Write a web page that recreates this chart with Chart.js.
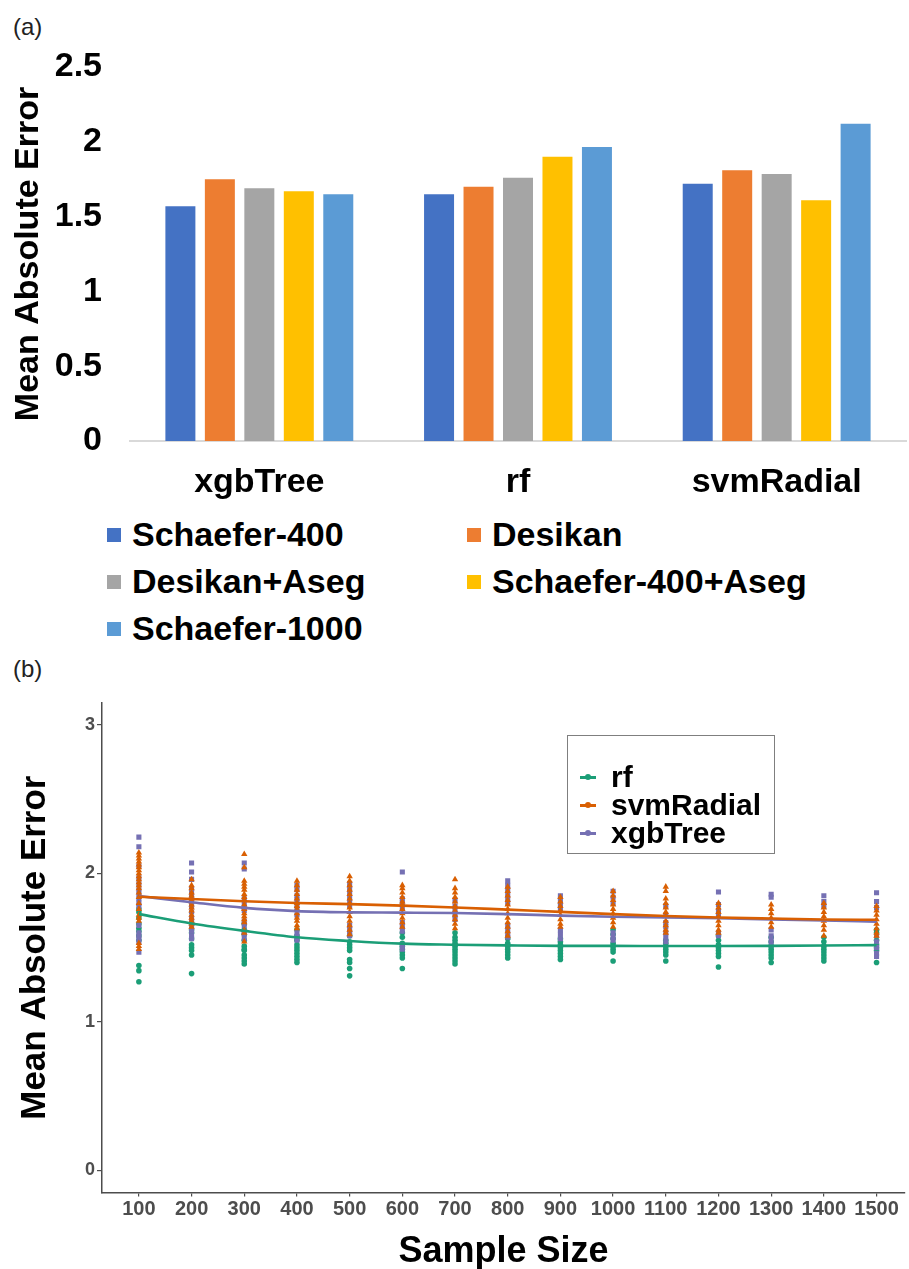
<!DOCTYPE html>
<html><head><meta charset="utf-8">
<script src="https://cdn.jsdelivr.net/npm/chart.js@4/dist/chart.umd.min.js"></script>
<style>
html,body{margin:0;padding:0;background:#fff;}
body{width:909px;height:1269px;position:relative;overflow:hidden;font-family:"Liberation Sans",Arial,sans-serif;}
#wrapA{position:absolute;left:0;top:0;width:909px;height:510px;}
#wrapB{position:absolute;left:0;top:690px;width:909px;height:579px;}
.panel{position:absolute;left:13px;font-size:24px;color:#222;line-height:28px;}
#legA{position:absolute;left:107px;top:511px;display:grid;grid-template-columns:360px 420px;grid-auto-rows:47px;}
#legA .it{display:flex;align-items:center;font-weight:bold;font-size:34px;color:#000;white-space:nowrap;}
#legA .sw{width:14px;height:14px;margin-right:11px;flex:none;}
#legB{position:absolute;left:567px;top:735px;width:208px;height:119px;border:1.5px solid #7f7f7f;box-sizing:border-box;padding-top:27px;}
#legB .it{display:flex;align-items:center;height:28px;font-weight:bold;font-size:30px;color:#000;white-space:nowrap;}
#legB .key{position:relative;width:16px;height:3px;margin-left:12px;margin-right:15px;flex:none;}
#legB .key i{position:absolute;left:5px;top:-1.5px;width:6px;height:6px;border-radius:3px;}
</style></head>
<body>
<div class="panel" style="top:13px">(a)</div>
<div class="panel" style="top:655px">(b)</div>
<div id="wrapA"><canvas id="cA" width="909" height="510"></canvas></div>
<div id="legA"></div>
<div id="wrapB"><canvas id="cB" width="909" height="579"></canvas></div>
<div id="legB"></div>
<script>
// ---------- Panel (a) data ----------
const models = ['xgbTree', 'rf', 'svmRadial'];
const atlasNames = ['Schaefer-400', 'Desikan', 'Desikan+Aseg', 'Schaefer-400+Aseg', 'Schaefer-1000'];
const schaefer400 = [1.57, 1.65, 1.72];
const desikan = [1.75, 1.70, 1.81];
const desikanAseg = [1.69, 1.76, 1.785];
const schaefer400Aseg = [1.67, 1.90, 1.61];
const schaefer1000 = [1.65, 1.965, 2.12];
const atlasColors = ['#4472c4', '#ed7d31', '#a5a5a5', '#ffc000', '#5b9bd5'];
const yTicksA = [0, 0.5, 1, 1.5, 2, 2.5];

// ---------- Panel (b) data ----------
const sampleSizes = [100,200,300,400,500,600,700,800,900,1000,1100,1200,1300,1400,1500];
const yTicksB = [0, 1, 2, 3];
const modelNamesB = ['rf', 'svmRadial', 'xgbTree'];
const rfFit  = [1.726,1.663,1.613,1.570,1.545,1.527,1.520,1.515,1.512,1.512,1.511,1.511,1.512,1.514,1.517];
const svmFit = [1.843,1.828,1.813,1.801,1.793,1.783,1.771,1.756,1.741,1.726,1.713,1.703,1.696,1.690,1.688];
const xgbFit = [1.848,1.806,1.768,1.746,1.738,1.736,1.733,1.726,1.716,1.708,1.703,1.698,1.690,1.683,1.675];
const rfPts = [
 [1.76,1.74,1.70,1.66,1.63,1.61,1.58,1.55,1.38,1.345,1.27],
 [1.66,1.62,1.60,1.56,1.52,1.50,1.48,1.45,1.325],
 [1.66,1.62,1.59,1.55,1.51,1.49,1.48,1.45,1.43,1.41,1.39],
 [1.62,1.58,1.55,1.52,1.50,1.48,1.46,1.44,1.42,1.40],
 [1.58,1.54,1.52,1.50,1.48,1.42,1.40,1.36,1.31],
 [1.60,1.57,1.53,1.51,1.49,1.47,1.45,1.43,1.36],
 [1.60,1.57,1.55,1.53,1.51,1.49,1.47,1.45,1.43,1.41,1.39],
 [1.56,1.53,1.51,1.49,1.47,1.45,1.43],
 [1.56,1.54,1.52,1.50,1.48,1.46,1.44,1.42],
 [1.62,1.59,1.56,1.53,1.51,1.49,1.47,1.41],
 [1.55,1.53,1.51,1.49,1.47,1.45,1.41],
 [1.58,1.55,1.52,1.50,1.48,1.46,1.44,1.37],
 [1.57,1.54,1.51,1.49,1.47,1.45,1.43,1.40],
 [1.57,1.54,1.51,1.49,1.47,1.45,1.43,1.41],
 [1.62,1.60,1.55,1.52,1.50,1.48,1.40]
];
const svmPts = [
 [2.14,2.12,2.10,2.08,2.06,2.04,2.02,2.00,1.98,1.96,1.94,1.92,1.90,1.87,1.84,1.80,1.76,1.72,1.70,1.68,1.53,1.51,1.49],
 [1.96,1.92,1.90,1.87,1.85,1.83,1.81,1.79,1.77,1.75,1.72,1.70,1.68,1.66,1.64],
 [2.13,2.04,1.95,1.93,1.91,1.89,1.86,1.84,1.82,1.79,1.76,1.73,1.71,1.69,1.67,1.62,1.60,1.54],
 [1.95,1.92,1.89,1.86,1.83,1.80,1.78,1.76,1.73,1.70,1.68,1.65,1.63],
 [1.98,1.95,1.92,1.89,1.86,1.83,1.80,1.77,1.74,1.71,1.68,1.65,1.62,1.59],
 [1.92,1.90,1.87,1.84,1.81,1.79,1.76,1.73,1.70,1.67,1.64],
 [1.96,1.90,1.87,1.84,1.81,1.78,1.75,1.72,1.69,1.66,1.63],
 [1.91,1.88,1.85,1.82,1.79,1.76,1.73,1.70,1.67,1.64,1.61,1.58],
 [1.84,1.81,1.78,1.75,1.72,1.69,1.66,1.64],
 [1.88,1.85,1.82,1.79,1.76,1.73,1.70,1.67,1.64],
 [1.91,1.88,1.83,1.80,1.77,1.74,1.71,1.68,1.65,1.62,1.60],
 [1.80,1.77,1.74,1.71,1.68,1.65,1.62,1.60],
 [1.79,1.76,1.73,1.70,1.67,1.64],
 [1.80,1.77,1.74,1.71,1.68,1.65,1.62,1.58],
 [1.78,1.75,1.72,1.69,1.66,1.63,1.60,1.58]
];
const xgbPts = [
 [2.245,2.18,2.05,1.97,1.93,1.89,1.86,1.83,1.80,1.78,1.65,1.60,1.58,1.56,1.54,1.47],
 [2.07,2.01,1.96,1.90,1.87,1.84,1.81,1.78,1.74,1.70,1.67,1.64,1.61,1.58,1.56],
 [2.07,2.03,1.83,1.80,1.77,1.75,1.68,1.65,1.61,1.59,1.56],
 [1.92,1.89,1.85,1.82,1.79,1.76,1.72,1.60,1.57,1.55],
 [1.93,1.90,1.87,1.84,1.81,1.78,1.65,1.62,1.60,1.58],
 [2.01,1.83,1.80,1.77,1.67,1.64,1.61,1.52,1.49],
 [1.82,1.78,1.75,1.72,1.69],
 [1.95,1.92,1.89,1.86,1.83,1.80,1.65,1.62,1.59,1.57],
 [1.85,1.82,1.79,1.76,1.62,1.59,1.56],
 [1.88,1.84,1.80,1.60,1.57,1.55],
 [1.78,1.72,1.67,1.64,1.60,1.57,1.54],
 [1.875,1.79,1.75,1.72,1.60,1.58],
 [1.86,1.84,1.62,1.58,1.55,1.52],
 [1.85,1.81,1.78],
 [1.87,1.81,1.77,1.58,1.54,1.50,1.46,1.44]
];
const modelColorsB = ['#1b9e77', '#d95f02', '#7570b3'];
const modelShapesB = ['circle', 'triangle', 'rect'];

const FONT = '"Liberation Sans", Arial, sans-serif';

// ---------- Chart (a) ----------
const atlasValues = [schaefer400, desikan, desikanAseg, schaefer400Aseg, schaefer1000];
new Chart(document.getElementById('cA'), {
  type: 'bar',
  data: {
    labels: models,
    datasets: atlasNames.map((n, i) => ({
      label: n, data: atlasValues[i], backgroundColor: atlasColors[i],
      categoryPercentage: 0.763, barPercentage: 0.76, borderWidth: 0
    }))
  },
  options: {
    responsive: false, animation: false, devicePixelRatio: 1,
    layout: { padding: { top: 67, right: 3, left: 0, bottom: 0 } },
    plugins: { legend: { display: false }, tooltip: { enabled: false } },
    scales: {
      x: {
        grid: { display: false, drawTicks: false },
        border: { display: true, color: '#d9d9d9', width: 2 },
        ticks: { padding: 21, color: '#000', font: { family: FONT, size: 34, weight: 'bold' } },
        afterFit: s => { s.height = 69; }
      },
      y: {
        min: 0, max: 2.5,
        afterBuildTicks: s => { s.ticks = yTicksA.map(v => ({ value: v })); },
        grid: { display: false, drawTicks: false },
        border: { display: false },
        ticks: { padding: 28, color: '#000', callback: v => String(v),
                 font: { family: FONT, size: 34, weight: 'bold' } },
        title: { display: true, text: 'Mean Absolute Error', color: '#000', padding: { top: 8, bottom: 0 },
                 font: { family: FONT, size: 34, weight: 'bold' } },
        afterFit: s => { s.width = 130; }
      }
    }
  }
});

// legend (a)
const legA = document.getElementById('legA');
atlasNames.forEach((n, i) => {
  const d = document.createElement('div'); d.className = 'it';
  d.innerHTML = '<span class="sw" style="background:' + atlasColors[i] + '"></span><span></span>';
  d.lastChild.textContent = n;
  legA.appendChild(d);
});

// ---------- Chart (b) ----------
const ptsB = [rfPts, svmPts, xgbPts];
const fitB = [rfFit, svmFit, xgbFit];
const pointOrder = [3, 1, 2];
const pointRadii = [2.8, 3.7, 3.6];
const dsB = [];
modelNamesB.forEach((n, i) => {
  dsB.push({
    label: n + ' fit', type: 'line',
    data: sampleSizes.map((s, k) => ({ x: s, y: fitB[i][k] })),
    borderColor: modelColorsB[i], borderWidth: 2.6, pointRadius: 0, fill: false,
    cubicInterpolationMode: 'monotone', order: 0
  });
});
modelNamesB.forEach((n, i) => {
  const data = [];
  sampleSizes.forEach((s, k) => ptsB[i][k].forEach(v => data.push({ x: s, y: v })));
  dsB.push({
    label: n, type: 'scatter', data,
    pointStyle: modelShapesB[i], pointRadius: pointRadii[i],
    backgroundColor: modelColorsB[i], borderColor: modelColorsB[i], borderWidth: 0,
    order: pointOrder[i]
  });
});
new Chart(document.getElementById('cB'), {
  type: 'scatter',
  data: { datasets: dsB },
  options: {
    responsive: false, animation: false, devicePixelRatio: 1,
    layout: { padding: { top: 9, right: 1, left: 0, bottom: 0 } },
    plugins: { legend: { display: false }, tooltip: { enabled: false } },
    scales: {
      x: {
        type: 'linear', min: 30, max: 1554,
        afterBuildTicks: s => { s.ticks = sampleSizes.map(v => ({ value: v })); },
        grid: { display: true, drawOnChartArea: false, drawTicks: true, tickLength: 4, color: '#4d4d4d', lineWidth: 1.2 },
        border: { display: true, color: '#4d4d4d', width: 1.5 },
        ticks: { padding: 1, color: '#4d4d4d', autoSkip: false, maxRotation: 0, callback: v => String(v),
                 font: { family: FONT, size: 20, weight: 'bold' } },
        title: { display: true, text: 'Sample Size', color: '#000', padding: { top: 0, bottom: -5 },
                 font: { family: FONT, size: 36, weight: 'bold' } },
        afterFit: s => { s.height = 76.5; }
      },
      y: {
        type: 'linear', min: -0.15, max: 3.15,
        afterBuildTicks: s => { s.ticks = yTicksB.map(v => ({ value: v })); },
        grid: { display: true, drawOnChartArea: false, drawTicks: true, tickLength: 5, color: '#4d4d4d', lineWidth: 1.2 },
        border: { display: true, color: '#4d4d4d', width: 1.5 },
        ticks: { padding: 2, color: '#4d4d4d', callback: v => String(v),
                 font: { family: FONT, size: 18, weight: 'bold' } },
        title: { display: true, text: 'Mean Absolute Error', color: '#000', padding: { top: 14, bottom: 0 },
                 font: { family: FONT, size: 35, weight: 'bold' } },
        afterFit: s => { s.width = 102; }
      }
    }
  }
});

// legend (b)
const legB = document.getElementById('legB');
modelNamesB.forEach((n, i) => {
  const d = document.createElement('div'); d.className = 'it';
  d.innerHTML = '<span class="key" style="background:' + modelColorsB[i] + '"><i style="background:' + modelColorsB[i] + '"></i></span><span></span>';
  d.lastChild.textContent = n;
  legB.appendChild(d);
});
</script>
</body></html>
